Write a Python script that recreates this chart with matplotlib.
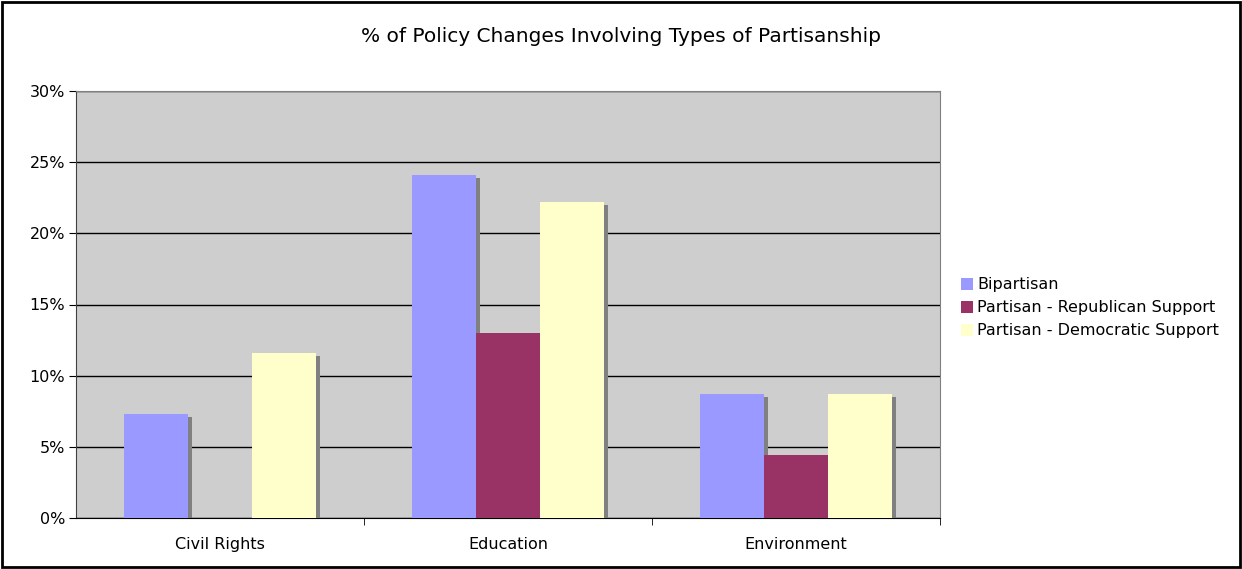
import numpy as np
import matplotlib.pyplot as plt
from matplotlib.patches import Rectangle
from matplotlib.ticker import PercentFormatter

categories = ["Civil Rights", "Education", "Environment"]
series_names = ["Bipartisan", "Partisan - Republican Support", "Partisan - Democratic Support"]
bipartisan = [7.3, 24.1, 8.7]
republican = [0.0, 13.0, 4.4]
democratic = [11.6, 22.2, 8.7]
colors = ["#9999FF", "#993366", "#FFFFCC"]


def main():
    fig = plt.figure(figsize=(12.42, 5.69), dpi=100)
    ax = fig.add_axes([76 / 1242, 51 / 569, 864 / 1242, 427 / 569])
    ax.set_facecolor("#CECECE")

    x = np.arange(len(categories))
    width = 0.222
    # shadow offset: ~4px right, ~3px down
    dx = 4 / 288
    dy = 3 / 427 * 30

    all_series = [bipartisan, republican, democratic]
    for i, (vals, col, name) in enumerate(zip(all_series, colors, series_names)):
        pos = x + (i - 1) * width
        vals = np.array(vals)
        shadow = np.where(vals > 0, vals - dy, 0)
        ax.bar(pos + dx, shadow, width, color="#808080", zorder=2 + i * 2, linewidth=0)
        ax.bar(pos, vals, width, color=col, zorder=3 + i * 2, linewidth=0, label=name)

    ax.set_xlim(-0.5, 2.5)
    ax.set_ylim(0, 30)
    ax.set_yticks([0, 5, 10, 15, 20, 25, 30])
    ax.yaxis.set_major_formatter(PercentFormatter(decimals=0))
    ax.grid(axis="y", color="black", linewidth=1, zorder=1)
    ax.set_axisbelow(True)

    ax.set_xticks(x)
    ax.set_xticklabels(categories)
    ax.set_xticks([0.5, 1.5, 2.5], minor=True)
    ax.tick_params(axis="x", which="major", length=0, pad=14, labelsize=11.5)
    ax.tick_params(axis="x", which="minor", length=5, color="black")
    ax.tick_params(axis="y", length=5, labelsize=11.5, pad=3)

    for side in ["top", "right"]:
        ax.spines[side].set_color("#808080")
    ax.spines["left"].set_color("#404040")
    ax.spines["bottom"].set_color("black")

    fig.text(0.5, 1 - 37 / 569, "% of Policy Changes Involving Types of Partisanship",
             ha="center", va="center", fontsize=14.5)

    fig.legend(loc="upper left", bbox_to_anchor=(955 / 1242, 1 - 271 / 569), frameon=False,
               fontsize=11.5, handlelength=0.75, handleheight=0.75, handletextpad=0.25,
               labelspacing=0.5, borderaxespad=0)

    fig.patches.append(Rectangle((0.002, 0.003), 0.996, 0.994, transform=fig.transFigure,
                                 fill=False, edgecolor="black", linewidth=2))

    fig.savefig("out.png", dpi=100)


if __name__ == "__main__":
    main()
